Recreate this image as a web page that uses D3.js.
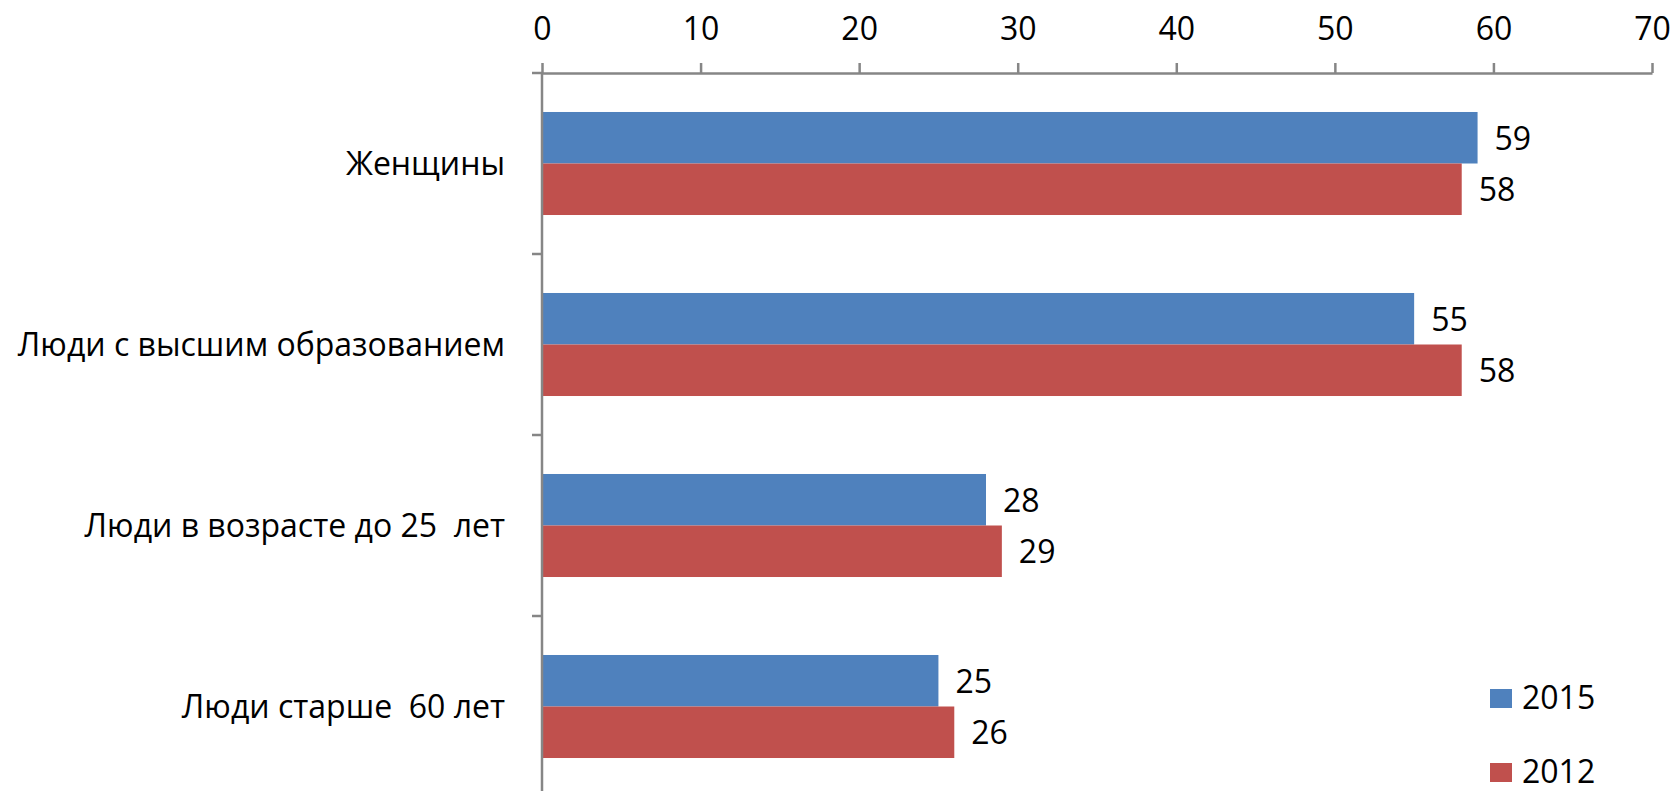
<!DOCTYPE html>
<html>
<head>
<meta charset="utf-8">
<script src="https://cdn.jsdelivr.net/npm/d3@7"></script>
<style>
  body { margin: 0; background: #fff; }
  svg { display: block; }
  text { font-family: "Open Sans", sans-serif; fill: #000; white-space: pre; }
</style>
</head>
<body>
<div id="container"></div>
<script>
// categories and series
const categories = ["Женщины", "Люди с высшим образованием", "Люди в возрасте до 25  лет", "Люди старше  60 лет"];
const seriesNames = ["2015", "2012"];
const values2015 = [59, 55, 28, 25];
const values2012 = [58, 58, 29, 26];
const xTicks = [0, 10, 20, 30, 40, 50, 60, 70];

const colors = {"2015": "#4F81BD", "2012": "#C0504D"};
const axisColor = "#868686";
const fontSize = 32;

const width = 1677;
const height = 791;

// plot area
const plotLeft = 542;
const plotRight = 1652;
const plotTop = 73;
const plotBottom = 797;

const data = categories.map((c, i) => ({
    category: c,
    values: [
        {series: "2015", value: values2015[i]},
        {series: "2012", value: values2012[i]}
    ]
}));

const scaleX = d3.scaleLinear().domain([0, 70]).range([plotLeft, plotRight]);
const scaleY = d3.scaleBand().domain(categories).range([plotTop, plotBottom]).padding(0);
// bars inside one category
const scaleY1 = d3.scaleBand().domain(seriesNames)
    .range([0, scaleY.bandwidth()])
    .paddingInner(0)
    .paddingOuter(0.757);

const svg = d3.select("#container")
    .append("svg")
    .attr("width", width)
    .attr("height", height);

// bars
const groups = svg.append("g")
    .selectAll("g")
    .data(data)
    .join("g")
    .attr("transform", d => "translate(0," + scaleY(d.category) + ")");

groups.selectAll("rect")
    .data(d => d.values)
    .join("rect")
    .attr("x", scaleX(0))
    .attr("y", d => scaleY1(d.series))
    .attr("width", d => scaleX(d.value) - scaleX(0))
    .attr("height", scaleY1.bandwidth())
    .attr("fill", d => colors[d.series]);

// value labels
groups.selectAll("text.val")
    .data(d => d.values)
    .join("text")
    .attr("class", "val")
    .attr("x", d => scaleX(d.value) + 17)
    .attr("y", d => scaleY1(d.series) + scaleY1.bandwidth() / 2)
    .attr("dy", "0.37em")
    .attr("font-size", fontSize)
    .text(d => d.value);

// x axis on top
const xAxis = svg.append("g")
    .attr("transform", "translate(0," + plotTop + ")")
    .call(d3.axisTop(scaleX).tickValues(xTicks).tickSize(10).tickSizeOuter(0).tickPadding(23));
xAxis.selectAll("text")
    .attr("font-size", fontSize)
    .attr("font-family", "Open Sans, sans-serif")
    .attr("fill", "#000");

// y axis: line, ticks on band edges, labels at band centres
const yAxis = svg.append("g").attr("transform", "translate(" + plotLeft + ",0)");
yAxis.append("line")
    .attr("y1", plotTop)
    .attr("y2", height)
    .attr("stroke", axisColor);
yAxis.selectAll("line.edge")
    .data(categories)
    .join("line")
    .attr("class", "edge")
    .attr("x1", -10)
    .attr("x2", 0)
    .attr("y1", d => scaleY(d))
    .attr("y2", d => scaleY(d))
    .attr("stroke", axisColor);
yAxis.selectAll("text")
    .data(categories)
    .join("text")
    .attr("x", -37)
    .attr("y", d => scaleY(d) + scaleY.bandwidth() / 2)
    .attr("dy", "0.37em")
    .attr("text-anchor", "end")
    .attr("font-size", fontSize)
    .text(d => d);

svg.selectAll(".domain, .tick line, line").attr("stroke", axisColor).attr("stroke-width", 2.5);

// legend
const legend = svg.append("g")
    .selectAll("g")
    .data(seriesNames)
    .join("g")
    .attr("transform", (d, i) => "translate(1490," + (689 + i * 74) + ")");
legend.append("rect")
    .attr("width", 22)
    .attr("height", 19)
    .attr("fill", d => colors[d]);
legend.append("text")
    .attr("x", 32)
    .attr("y", 20)
    .attr("font-size", fontSize)
    .text(d => d);
</script>
</body>
</html>
